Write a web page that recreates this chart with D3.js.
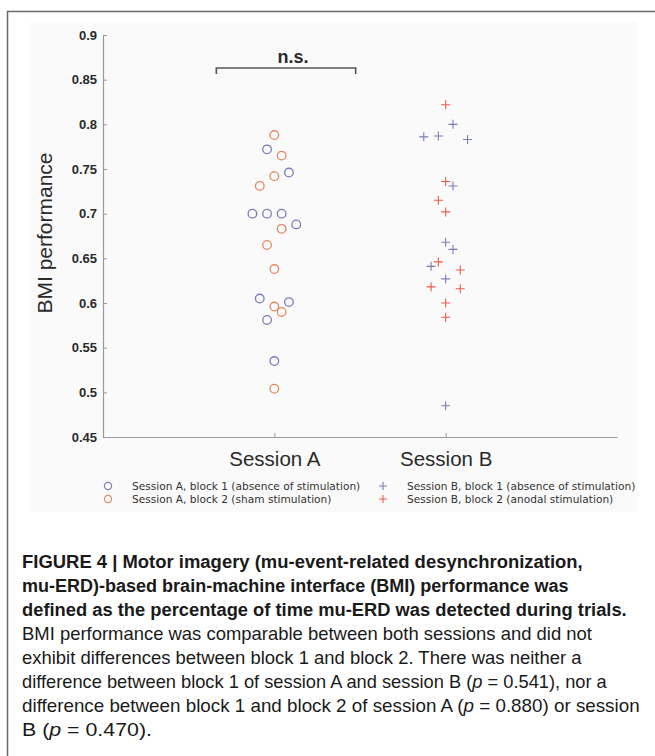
<!DOCTYPE html>
<html>
<head>
<meta charset="utf-8">
<script src="https://cdn.jsdelivr.net/npm/d3@7/dist/d3.min.js"></script>
<style>
  html, body { margin: 0; padding: 0; background: #ffffff; }
  svg { display: block; }
</style>
</head>
<body>
<svg id="chart" width="655" height="756"></svg>
<script>
// ---------------- DATA ----------------
const sessions = ["Session A", "Session B"];
const yTicks = [0.45, 0.5, 0.55, 0.6, 0.65, 0.7, 0.75, 0.8, 0.85, 0.9];

// Session A, block 1 (absence of stimulation)
const valuesA1 = [0.772, 0.746, 0.700, 0.700, 0.700, 0.688, 0.605, 0.601, 0.581, 0.535];
const slotsA1  = [-1, 2, -3, -1, 1, 3, -2, 2, -1, 0];
// Session A, block 2 (sham stimulation)
const valuesA2 = [0.788, 0.765, 0.742, 0.731, 0.683, 0.665, 0.638, 0.596, 0.590, 0.504];
const slotsA2  = [0, 1, 0, -2, 1, -1, 0, 0, 1, 0];
// Session B, block 1 (absence of stimulation)
const valuesB1 = [0.800, 0.787, 0.786, 0.783, 0.731, 0.668, 0.660, 0.641, 0.627, 0.485];
const slotsB1  = [1, -1, -3, 3, 1, 0, 1, -2, 0, 0];
// Session B, block 2 (anodal stimulation)
const valuesB2 = [0.822, 0.736, 0.715, 0.702, 0.646, 0.637, 0.618, 0.616, 0.600, 0.584];
const slotsB2  = [0, 0, -1, 0, -1, 2, -2, 2, 0, 0];

const legendLabels = [
  "Session A, block 1 (absence of stimulation)",
  "Session A, block 2 (sham stimulation)",
  "Session B, block 1 (absence of stimulation)",
  "Session B, block 2 (anodal stimulation)"
];
const sigLabel = "n.s.";
const yLabel = "BMI performance";

// ---------------- STYLE / LAYOUT ----------------
const colBlue = "#7b7db9";
const colOrange = "#e38a62";
const colRed = "#ee5a46";
const axisCol = "#9a9a9a";
const textCol = "#2a2a2a";
const sans = "'Liberation Sans', Arial, Helvetica, sans-serif";

const svg = d3.select("#chart");

// frame
svg.append("rect").attr("x", 7.5).attr("y", 11.5).attr("width", 700).attr("height", 800)
  .attr("fill", "none").attr("stroke", "#6a6a6a").attr("stroke-width", 1.5);
// light panel behind chart
svg.append("rect").attr("x", 30).attr("y", 22).attr("width", 607).attr("height", 490)
  .attr("fill", "#fafafa");

const x = d3.scalePoint().domain(sessions).range([103, 617]).padding(1);
const y = d3.scaleLinear().domain([0.45, 0.9]).range([437, 35]);
const step = 7.3;

// y axis
const yAxis = svg.append("g").attr("transform", "translate(103,0)")
  .call(d3.axisLeft(y).tickValues(yTicks).tickFormat(d => String(+d.toFixed(2)))
    .tickSizeInner(-4).tickSizeOuter(0).tickPadding(6));
yAxis.select(".domain").attr("stroke", axisCol).attr("stroke-width", 1.2);
yAxis.selectAll(".tick line").attr("stroke", axisCol);
yAxis.selectAll(".tick text").attr("fill", textCol)
  .style("font-family", sans).style("font-size", "13px").style("font-weight", "bold");

// x axis
const xAxis = svg.append("g").attr("transform", "translate(0,437)")
  .call(d3.axisBottom(x).tickSizeInner(-4).tickSizeOuter(0).tickPadding(14));
xAxis.select(".domain").attr("stroke", axisCol).attr("stroke-width", 1.2);
xAxis.selectAll(".tick line").attr("stroke", axisCol);
xAxis.selectAll(".tick text").attr("fill", textCol)
  .style("font-family", sans).style("font-size", "20.5px");

// y label
svg.append("text")
  .attr("transform", `translate(52,${(y(0.9) + y(0.45)) / 2 - 3}) rotate(-90)`)
  .attr("text-anchor", "middle").attr("fill", textCol)
  .style("font-family", sans).style("font-size", "21px")
  .text(yLabel);

// points
function drawCircles(vals, slots, session, color) {
  svg.append("g").selectAll("circle").data(vals).join("circle")
    .attr("cx", (d, i) => x(session) + slots[i] * step)
    .attr("cy", d => y(d))
    .attr("r", 4.3)
    .attr("fill", "none").attr("stroke", color).attr("stroke-width", 1.3);
}
function drawPlus(vals, slots, session, color) {
  svg.append("g").selectAll("path").data(vals).join("path")
    .attr("transform", (d, i) => `translate(${x(session) + slots[i] * step},${y(d)})`)
    .attr("d", "M-4.5,0H4.5M0,-4.5V4.5")
    .attr("fill", "none").attr("stroke", color).attr("stroke-width", 1.1);
}
drawCircles(valuesA1, slotsA1, sessions[0], colBlue);
drawCircles(valuesA2, slotsA2, sessions[0], colOrange);
drawPlus(valuesB1, slotsB1, sessions[1], colBlue);
drawPlus(valuesB2, slotsB2, sessions[1], colRed);

// significance bracket
const bx0 = x(sessions[0]) - 58, bx1 = x(sessions[1]) - 90;
const by = y(0.863);
svg.append("path")
  .attr("d", `M${bx0},${by + 6}V${by}H${bx1}V${by + 6}`)
  .attr("fill", "none").attr("stroke", "#555").attr("stroke-width", 1.6);
svg.append("text").attr("x", (bx0 + bx1) / 2 + 7).attr("y", by - 5)
  .attr("text-anchor", "middle").attr("fill", textCol)
  .style("font-family", sans).style("font-size", "18px").style("font-weight", "bold")
  .text(sigLabel);

// legend
const legendFont = "'DejaVu Sans', Verdana, sans-serif";
const legItems = [
  {lab: legendLabels[0], col: colBlue, type: "c", lx: 108, ly: 486},
  {lab: legendLabels[1], col: colOrange, type: "c", lx: 108, ly: 499},
  {lab: legendLabels[2], col: colBlue, type: "p", lx: 383, ly: 486},
  {lab: legendLabels[3], col: colRed, type: "p", lx: 383, ly: 499}
];
const lg = svg.append("g");
legItems.forEach(it => {
  if (it.type === "c") {
    lg.append("circle").attr("cx", it.lx).attr("cy", it.ly).attr("r", 3.6)
      .attr("fill", "none").attr("stroke", it.col).attr("stroke-width", 1.2);
  } else {
    lg.append("path").attr("transform", `translate(${it.lx},${it.ly})`)
      .attr("d", "M-4,0H4M0,-4V4").attr("fill", "none")
      .attr("stroke", it.col).attr("stroke-width", 1.1);
  }
  lg.append("text").attr("x", it.lx + 24).attr("y", it.ly + 3.8)
    .attr("fill", "#333")
    .style("font-family", legendFont).style("font-size", "10.6px")
    .text(it.lab);
});

// caption: each line built from parts, then horizontally condensed to its width
const capFont = "'Liberation Sans Narrow', 'Arial Narrow', 'Liberation Sans', Arial, sans-serif";
const capLines = [
  {bold: true, parts: [["FIGURE 4 | Motor imagery (mu-event-related desynchronization,", false]], w: 561},
  {bold: true, parts: [["mu-ERD)-based brain-machine interface (BMI) performance was", false]], w: 547},
  {bold: true, parts: [["defined as the percentage of time mu-ERD was detected during trials.", false]], w: 605},
  {bold: false, parts: [["BMI performance was comparable between both sessions and did not", false]], w: 570},
  {bold: false, parts: [["exhibit differences between block 1 and block 2. There was neither a", false]], w: 560},
  {bold: false, parts: [["difference between block 1 of session A and session B (", false], ["p", true], ["\u00a0= 0.541), nor a", false]], w: 585},
  {bold: false, parts: [["difference between block 1 and block 2 of session A (", false], ["p", true], ["\u00a0= 0.880) or session", false]], w: 618},
  {bold: false, parts: [["B (", false], ["p", true], ["\u00a0= 0.470).", false]], w: 130}
];
const capG = svg.append("g");
capLines.forEach((ln, i) => {
  const g = capG.append("g");
  const t = g.append("text").attr("x", 0).attr("y", 0)
    .attr("fill", "#1a1a1a")
    .style("font-family", capFont).style("font-size", "18.5px")
    .style("font-weight", ln.bold ? "bold" : "normal")
    .style("white-space", "pre");
  ln.parts.forEach(p => {
    t.append("tspan").style("font-style", p[1] ? "italic" : "normal").text(p[0]);
  });
  const natural = t.node().getComputedTextLength();
  const sx = ln.w / natural;
  g.attr("transform", `translate(22,${568 + i * 24}) scale(${sx},1)`);
});
</script>
</body>
</html>
